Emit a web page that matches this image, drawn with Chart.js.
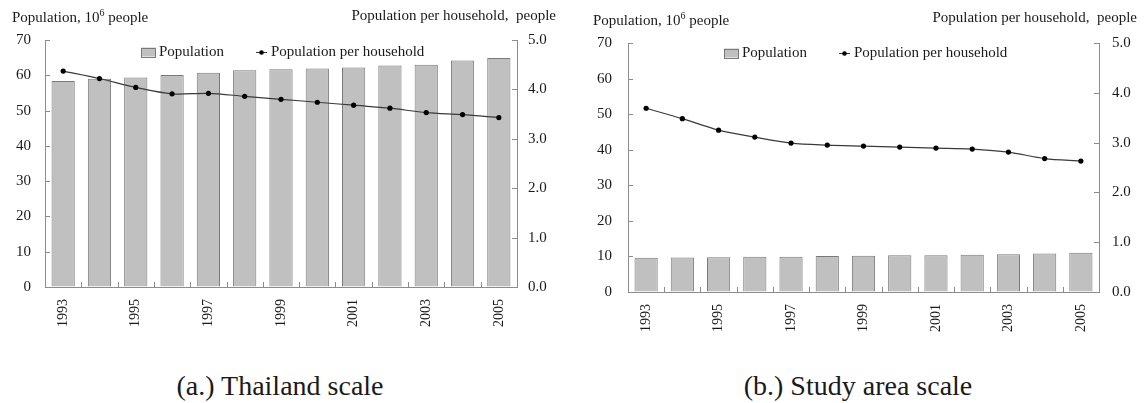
<!DOCTYPE html>
<html>
<head>
<meta charset="utf-8">
<title>Population and household size, 1993–2005</title>
<script src="https://cdn.jsdelivr.net/npm/chart.js@4/dist/chart.umd.min.js"></script>
<style>
  html, body { margin: 0; padding: 0; background: #fff; }
  body {
    width: 1144px; height: 403px; position: relative; overflow: hidden;
    font-family: "Liberation Serif", "Times New Roman", serif; color: #1a1a1a;
  }
  .panel { position: absolute; top: 0; height: 345px; }
  #panelA { left: 0; width: 570px; }
  #panelB { left: 570px; width: 574px; }
  .panel canvas { position: absolute; left: 0; top: 0; }
  .axis-title { position: absolute; font-size: 15px; line-height: 15px; white-space: pre; }
  .axis-title .sup { font-size: 10px; position: relative; top: -6px; }
  .caption { position: absolute; font-size: 28px; line-height: 28px; white-space: nowrap; transform: translateX(-50%); }
</style>
</head>
<body>

<div class="panel" id="panelA">
  <canvas id="chartA" width="570" height="345"></canvas>
  <div class="axis-title" style="left:12px; top:10px;">Population, 10<span class="sup">6</span> people</div>
  <div class="axis-title" style="right:14px; top:8px;">Population per household,  people</div>
</div>

<div class="panel" id="panelB">
  <canvas id="chartB" width="574" height="345"></canvas>
  <div class="axis-title" style="left:23px; top:13px;">Population, 10<span class="sup">6</span> people</div>
  <div class="axis-title" style="right:7px; top:10px;">Population per household,  people</div>
</div>

<div class="caption" style="left:280px; top:372px;">(a.) Thailand scale</div>
<div class="caption" style="left:858px; top:372px;">(b.) Study area scale</div>

<script>
// Years on the category axis
const years = ['1993', '1994', '1995', '1996', '1997', '1998', '1999',
               '2000', '2001', '2002', '2003', '2004', '2005'];

// Thailand: population (million people) and people per household
const thaiPopulation   = [58.4, 59.0, 59.4, 60.1, 60.7, 61.4, 61.7, 61.9, 62.2, 62.8, 63.0, 64.2, 64.9];
const thaiPerHousehold = [4.37, 4.22, 4.04, 3.91, 3.92, 3.86, 3.80, 3.74, 3.68, 3.62, 3.53, 3.49, 3.43];

// Study area: population (million people) and people per household
const studyPopulation   = [9.6, 9.7, 9.8, 9.9, 9.9, 10.1, 10.2, 10.3, 10.35, 10.5, 10.6, 10.8, 11.0];
const studyPerHousehold = [3.69, 3.48, 3.25, 3.11, 2.99, 2.95, 2.93, 2.91, 2.89, 2.87, 2.81, 2.68, 2.63];

// Axis ranges and tick steps
const populationAxis = { min: 0, max: 70, step: 10 };
const householdAxis  = { min: 0, max: 5, step: 1 };

const seriesNames = ['Population', 'Population per household'];

const FONT = '"Liberation Serif", "Times New Roman", serif';
const TEXT = '#1a1a1a';
const AXIS = '#8c8c8c';

Chart.defaults.font.family = FONT;
Chart.defaults.font.size = 15;
Chart.defaults.color = TEXT;

// Short tick marks pointing into the plot area
const innerTicks = {
  id: 'innerTicks',
  afterDraw(chart) {
    const { ctx, chartArea: a, scales } = chart;
    const len = 5;
    ctx.save();
    ctx.strokeStyle = AXIS;
    ctx.lineWidth = 1;
    ctx.beginPath();
    scales.y.ticks.forEach((t, i) => {
      const py = Math.round(scales.y.getPixelForTick(i)) + 0.5;
      ctx.moveTo(a.left, py); ctx.lineTo(a.left + len, py);
    });
    scales.y1.ticks.forEach((t, i) => {
      const py = Math.round(scales.y1.getPixelForTick(i)) + 0.5;
      ctx.moveTo(a.right, py); ctx.lineTo(a.right - len, py);
    });
    const n = scales.x.ticks.length;
    for (let i = 1; i < n; i++) {
      const px = Math.round((scales.x.getPixelForTick(i - 1) + scales.x.getPixelForTick(i)) / 2) + 0.5;
      ctx.moveTo(px, a.bottom); ctx.lineTo(px, a.bottom - len);
    }
    ctx.stroke();
    ctx.restore();
  }
};

// Legend drawn inside the top of the plot area
const insideLegend = {
  id: 'insideLegend',
  afterDraw(chart, args, opts) {
    const { ctx, chartArea: a } = chart;
    const [bars, line] = chart.data.datasets;
    ctx.save();
    ctx.font = '15px ' + FONT;
    ctx.textBaseline = 'middle';
    ctx.fillStyle = TEXT;
    const w1 = ctx.measureText(bars.label).width;
    const w2 = ctx.measureText(line.label).width;
    const swatchW = 15, swatchH = 9, symW = 11;
    const total = swatchW + 3 + w1 + 32 + symW + 4 + w2;
    let x = Math.round((a.left + a.right) / 2 - total / 2) + 2;
    const y = a.top + opts.offset;

    ctx.fillStyle = bars.backgroundColor;
    ctx.fillRect(x, y - swatchH / 2, swatchW, swatchH);
    ctx.strokeStyle = bars.borderColor;
    ctx.lineWidth = 1;
    ctx.strokeRect(x + 0.5, Math.round(y - swatchH / 2) + 0.5, swatchW - 1, swatchH);
    x += swatchW + 3;
    ctx.fillStyle = TEXT;
    ctx.fillText(bars.label, x, y);
    x += w1 + 32;

    ctx.strokeStyle = line.borderColor;
    ctx.lineWidth = 1;
    ctx.beginPath();
    ctx.moveTo(x, y + 0.5); ctx.lineTo(x + symW, y + 0.5);
    ctx.stroke();
    ctx.fillStyle = line.pointBackgroundColor;
    ctx.beginPath();
    ctx.arc(x + symW / 2, y + 0.5, 2.3, 0, Math.PI * 2);
    ctx.fill();
    x += symW + 4;
    ctx.fillStyle = TEXT;
    ctx.fillText(line.label, x, y);
    ctx.restore();
  }
};

function makeChart(canvasId, population, perHousehold, geom) {
  const ctx = document.getElementById(canvasId);
  return new Chart(ctx, {
    data: {
      labels: years,
      datasets: [
        {
          type: 'bar',
          label: seriesNames[0],
          data: population,
          yAxisID: 'y',
          backgroundColor: '#c0c0c0',
          borderColor: '#7a7a7a',
          borderWidth: 1,
          borderSkipped: 'bottom',
          categoryPercentage: 1.0,
          barPercentage: 0.64,
          order: 2
        },
        {
          type: 'line',
          label: seriesNames[1],
          data: perHousehold,
          yAxisID: 'y1',
          borderColor: '#3a3a3a',
          borderWidth: 1.2,
          pointRadius: 2.6,
          pointBackgroundColor: '#000000',
          pointBorderWidth: 0,
          tension: 0.3,
          fill: false,
          order: 1
        }
      ]
    },
    options: {
      responsive: false,
      animation: false,
      devicePixelRatio: 1,
      layout: { padding: { top: geom.top, left: 0, right: 0, bottom: 0 } },
      plugins: {
        legend: { display: false },
        tooltip: { enabled: false },
        insideLegend: { offset: geom.legendOffset }
      },
      scales: {
        x: {
          type: 'category',
          offset: true,
          grid: { display: false, drawTicks: false },
          border: { display: true, color: AXIS, width: 1 },
          ticks: {
            autoSkip: false,
            minRotation: 90,
            maxRotation: 90,
            padding: 12,
            font: { size: 14 },
            callback: (v, i) => (i % 2 === 0 ? years[i] : '')
          },
          afterFit(s) { s.height = geom.xHeight; }
        },
        y: {
          position: 'left',
          min: populationAxis.min,
          max: populationAxis.max,
          grid: { drawOnChartArea: false, drawTicks: false },
          border: { display: true, color: AXIS, width: 1 },
          ticks: { stepSize: populationAxis.step, padding: geom.leftPad },
          afterFit(s) { s.width = geom.leftWidth; }
        },
        y1: {
          position: 'right',
          min: householdAxis.min,
          max: householdAxis.max,
          grid: { drawOnChartArea: false, drawTicks: false },
          border: { display: true, color: AXIS, width: 1 },
          ticks: {
            stepSize: householdAxis.step,
            padding: geom.rightPad,
            callback: (v) => Number(v).toFixed(1)
          },
          afterFit(s) { s.width = geom.rightWidth; }
        }
      }
    },
    plugins: [innerTicks, insideLegend]
  });
}

makeChart('chartA', thaiPopulation, thaiPerHousehold, {
  top: 40, xHeight: 58, leftWidth: 45, rightWidth: 53,
  leftPad: 14, rightPad: 11, legendOffset: 12
});

makeChart('chartB', studyPopulation, studyPerHousehold, {
  top: 43, xHeight: 53, leftWidth: 58, rightWidth: 45,
  leftPad: 16, rightPad: 13, legendOffset: 10
});
</script>
</body>
</html>
